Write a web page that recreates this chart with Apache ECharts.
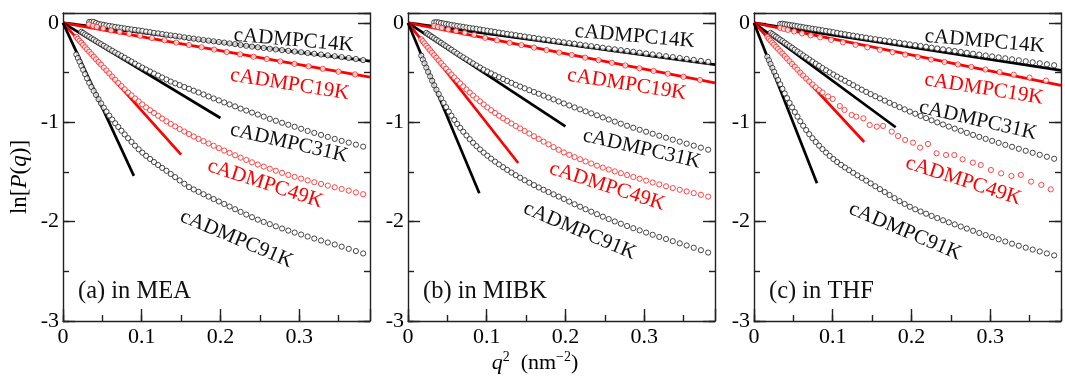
<!DOCTYPE html>
<html><head><meta charset="utf-8">
<script src="https://cdn.jsdelivr.net/npm/echarts@6/dist/echarts.min.js"></script>
<style>html,body{margin:0;padding:0;background:#fff}#c{width:1065px;height:376px}</style>
</head><body><div id="c"></div>
<script>
// ---- shared q^2 grid (nm^-2) of the densely sampled curves ----
const q2 = [
0.0169,0.0189,0.0210,0.0233,0.0256,0.0281,0.0306,0.0333,0.0361,0.0390,
0.0420,0.0452,0.0484,0.0518,0.0552,0.0588,0.0625,0.0663,0.0702,0.0743,
0.0784,0.0827,0.0870,0.0915,0.0961,0.1008,0.1056,0.1106,0.1156,0.1208,
0.1260,0.1314,0.1369,0.1425,0.1482,0.1541,0.1600,0.1661,0.1722,0.1785,
0.1849,0.1914,0.1980,0.2048,0.2116,0.2186,0.2256,0.2328,0.2401,0.2475,
0.2550,0.2627,0.2704,0.2783,0.2862,0.2943,0.3025,0.3108,0.3192,0.3278,
0.3364,0.3452,0.3540,0.3630,0.3721,0.3813,0.3906];
// q^2 grid of the sparse cADMPC19K data
const x19 = [0.033,0.038,0.043,0.051,0.061,0.072,0.084,0.098,0.113,0.129,0.144,0.16,0.176,0.192,0.208,0.225,0.242,0.259,0.276,0.294,0.312,0.33,0.35,0.371];

// ---- (a) in MEA ----
const a14 = [null,null,null,null,null,null,null,0.01,0.012,0.01,
0.0,-0.01,-0.015,-0.02,-0.025,-0.03,-0.035,-0.04,-0.045,-0.05,
-0.055,-0.06,-0.065,-0.07,-0.075,-0.08,-0.087,-0.093,-0.1,-0.105,
-0.112,-0.118,-0.125,-0.13,-0.137,-0.145,-0.152,-0.158,-0.165,-0.172,
-0.178,-0.185,-0.192,-0.198,-0.206,-0.213,-0.222,-0.23,-0.238,-0.245,
-0.252,-0.26,-0.267,-0.274,-0.281,-0.288,-0.295,-0.303,-0.31,-0.318,
-0.326,-0.335,-0.344,-0.353,-0.363,-0.374,-0.386];
const a19 = [-0.015,-0.03,-0.04,-0.055,-0.075,-0.09,-0.11,-0.13,-0.152,-0.175,-0.198,-0.222,-0.245,-0.268,-0.292,-0.316,-0.34,-0.363,-0.387,-0.412,-0.437,-0.462,-0.49,-0.518];
const a31 = [null,null,null,-0.09,-0.10,-0.115,-0.127,-0.14,-0.155,-0.168,
-0.184,-0.199,-0.214,-0.23,-0.246,-0.263,-0.28,-0.297,-0.314,-0.332,
-0.35,-0.37,-0.389,-0.41,-0.43,-0.45,-0.469,-0.489,-0.509,-0.529,
-0.549,-0.569,-0.59,-0.608,-0.626,-0.645,-0.663,-0.682,-0.70,-0.72,
-0.74,-0.76,-0.78,-0.80,-0.82,-0.84,-0.862,-0.882,-0.902,-0.922,
-0.943,-0.965,-0.985,-1.005,-1.025,-1.045,-1.065,-1.087,-1.107,-1.127,
-1.147,-1.167,-1.187,-1.205,-1.225,-1.245,-1.265];
const a49 = [-0.14,-0.16,-0.18,-0.20,-0.222,-0.244,-0.266,-0.29,-0.314,-0.34,
-0.366,-0.394,-0.42,-0.45,-0.478,-0.508,-0.54,-0.572,-0.604,-0.636,
-0.668,-0.70,-0.73,-0.76,-0.79,-0.82,-0.85,-0.878,-0.906,-0.934,
-0.962,-0.99,-1.016,-1.042,-1.068,-1.093,-1.118,-1.143,-1.167,-1.19,
-1.213,-1.236,-1.26,-1.284,-1.308,-1.332,-1.356,-1.379,-1.403,-1.425,
-1.446,-1.467,-1.488,-1.509,-1.53,-1.549,-1.567,-1.585,-1.603,-1.62,
-1.637,-1.654,-1.671,-1.688,-1.706,-1.724,-1.742];
const a91 = [-0.318,-0.353,-0.39,-0.432,-0.472,-0.515,-0.558,-0.603,-0.644,-0.684,
-0.725,-0.768,-0.81,-0.853,-0.893,-0.933,-0.972,-1.01,-1.047,-1.085,
-1.122,-1.16,-1.197,-1.235,-1.272,-1.306,-1.338,-1.369,-1.40,-1.43,
-1.459,-1.488,-1.52,-1.552,-1.585,-1.619,-1.652,-1.676,-1.70,-1.724,
-1.748,-1.773,-1.797,-1.822,-1.848,-1.875,-1.902,-1.929,-1.955,-1.98,
-2.003,-2.025,-2.047,-2.069,-2.09,-2.11,-2.13,-2.15,-2.17,-2.19,
-2.21,-2.23,-2.252,-2.274,-2.296,-2.32,-2.345];
const fitXa = [0.39, 0.39, 0.2, 0.15, 0.09];
const fitYa = [-0.385, -0.546, -0.957, -1.326, -1.54];

// ---- (b) in MIBK ----
const b14 = [null,null,null,null,null,null,null,0.005,0.008,0.005,
0.0,-0.005,-0.01,-0.015,-0.02,-0.025,-0.03,-0.035,-0.04,-0.045,
-0.05,-0.055,-0.06,-0.066,-0.072,-0.078,-0.084,-0.09,-0.097,-0.103,
-0.11,-0.116,-0.123,-0.13,-0.137,-0.144,-0.151,-0.158,-0.165,-0.172,
-0.18,-0.187,-0.195,-0.203,-0.21,-0.218,-0.226,-0.234,-0.242,-0.25,
-0.258,-0.266,-0.274,-0.282,-0.29,-0.299,-0.308,-0.317,-0.326,-0.335,
-0.344,-0.353,-0.362,-0.372,-0.382,-0.392,-0.403];
const b19 = [-0.03,-0.04,-0.05,-0.065,-0.08,-0.1,-0.12,-0.15,-0.175,-0.2,-0.223,-0.248,-0.273,-0.298,-0.322,-0.349,-0.375,-0.401,-0.428,-0.456,-0.483,-0.511,-0.542,-0.574];
const b31 = [null,null,null,-0.10,-0.113,-0.126,-0.14,-0.154,-0.169,-0.184,
-0.2,-0.217,-0.234,-0.252,-0.27,-0.289,-0.308,-0.328,-0.347,-0.367,
-0.387,-0.408,-0.428,-0.449,-0.47,-0.489,-0.508,-0.527,-0.546,-0.565,
-0.584,-0.603,-0.622,-0.64,-0.658,-0.677,-0.695,-0.713,-0.732,-0.751,
-0.77,-0.79,-0.81,-0.83,-0.85,-0.87,-0.89,-0.91,-0.93,-0.951,
-0.972,-0.993,-1.014,-1.035,-1.055,-1.075,-1.095,-1.115,-1.135,-1.155,
-1.175,-1.195,-1.215,-1.235,-1.255,-1.276,-1.297];
const b49 = [-0.165,-0.185,-0.206,-0.229,-0.251,-0.275,-0.299,-0.325,-0.351,-0.378,
-0.405,-0.433,-0.461,-0.49,-0.519,-0.549,-0.579,-0.609,-0.639,-0.67,
-0.70,-0.73,-0.76,-0.79,-0.82,-0.85,-0.878,-0.906,-0.934,-0.96,
-0.986,-1.012,-1.037,-1.062,-1.087,-1.113,-1.14,-1.168,-1.195,-1.222,
-1.25,-1.277,-1.303,-1.327,-1.35,-1.372,-1.394,-1.415,-1.436,-1.456,
-1.475,-1.494,-1.512,-1.531,-1.55,-1.568,-1.587,-1.606,-1.625,-1.644,
-1.662,-1.679,-1.696,-1.713,-1.73,-1.748,-1.766];
const b91 = [-0.33,-0.368,-0.407,-0.45,-0.493,-0.538,-0.582,-0.628,-0.672,-0.716,
-0.76,-0.805,-0.848,-0.892,-0.934,-0.976,-1.017,-1.056,-1.095,-1.133,
-1.17,-1.206,-1.24,-1.273,-1.305,-1.336,-1.366,-1.396,-1.424,-1.452,
-1.479,-1.506,-1.532,-1.558,-1.583,-1.608,-1.632,-1.656,-1.679,-1.702,
-1.725,-1.748,-1.772,-1.798,-1.825,-1.85,-1.875,-1.9,-1.925,-1.95,
-1.974,-1.998,-2.021,-2.044,-2.066,-2.088,-2.11,-2.132,-2.154,-2.175,
-2.196,-2.218,-2.24,-2.263,-2.287,-2.311,-2.335];
const fitXb = [0.39, 0.39, 0.2, 0.14, 0.0906];
const fitYb = [-0.42, -0.604, -1.04, -1.41, -1.715];

// ---- (c) in THF ----
const c14 = [null,null,null,null,null,null,null,-0.01,-0.008,-0.012,
-0.016,-0.02,-0.024,-0.028,-0.033,-0.038,-0.043,-0.048,-0.053,-0.058,
-0.063,-0.068,-0.074,-0.08,-0.086,-0.093,-0.1,-0.107,-0.114,-0.121,
-0.128,-0.135,-0.142,-0.149,-0.156,-0.163,-0.17,-0.177,-0.184,-0.192,
-0.2,-0.208,-0.216,-0.224,-0.232,-0.24,-0.249,-0.257,-0.266,-0.274,
-0.283,-0.292,-0.301,-0.31,-0.319,-0.328,-0.337,-0.347,-0.356,-0.366,
-0.376,-0.386,-0.396,-0.406,-0.416,-0.426,-0.436];
const c19 = [-0.05,-0.06,-0.07,-0.085,-0.105,-0.125,-0.145,-0.17,-0.195,-0.22,-0.245,-0.27,-0.294,-0.318,-0.343,-0.368,-0.393,-0.418,-0.443,-0.469,-0.495,-0.521,-0.55,-0.58];
const c31 = [null,null,-0.10,-0.112,-0.125,-0.139,-0.153,-0.168,-0.183,-0.199,
-0.215,-0.233,-0.25,-0.269,-0.288,-0.307,-0.327,-0.347,-0.368,-0.389,
-0.41,-0.432,-0.454,-0.476,-0.498,-0.519,-0.54,-0.561,-0.582,-0.604,
-0.626,-0.649,-0.672,-0.694,-0.716,-0.738,-0.76,-0.782,-0.804,-0.826,
-0.848,-0.87,-0.892,-0.914,-0.936,-0.958,-0.98,-1.001,-1.022,-1.043,
-1.064,-1.085,-1.106,-1.127,-1.147,-1.167,-1.187,-1.207,-1.227,-1.247,
-1.267,-1.287,-1.307,-1.327,-1.347,-1.367,-1.387];
// dense low-q part of cADMPC49K in THF (on q2 grid), then its sparse high-q part
const c49 = [-0.14,-0.16,-0.178,-0.199,-0.219,-0.24,-0.262,-0.285,-0.308,-0.333,
-0.358,-0.386,-0.413,-0.441,-0.47,-0.5,-0.53,-0.56,-0.59,-0.62,
-0.648,-0.676,-0.70];
const x49s = [0.094,0.1,0.109,0.115,0.124,0.13,0.139,0.147,0.156,0.164,0.175,0.183,0.192,0.202,0.211,0.221,0.232,0.244,0.2545,0.265,0.278,0.288,0.301,0.314,0.327,0.339,0.352,0.365,0.377];
const y49s = [-0.74,-0.765,-0.836,-0.876,-0.926,-0.943,-0.96,-1.027,-1.044,-1.037,-1.094,-1.138,-1.178,-1.205,-1.255,-1.218,-1.312,-1.329,-1.329,-1.373,-1.406,-1.43,-1.48,-1.514,-1.54,-1.53,-1.597,-1.63,-1.675];
const c91 = [-0.34,-0.376,-0.413,-0.453,-0.492,-0.534,-0.575,-0.618,-0.663,-0.71,
-0.757,-0.805,-0.85,-0.897,-0.943,-0.99,-1.035,-1.078,-1.12,-1.16,
-1.198,-1.235,-1.27,-1.305,-1.338,-1.37,-1.40,-1.428,-1.455,-1.482,
-1.508,-1.534,-1.56,-1.587,-1.615,-1.644,-1.673,-1.702,-1.732,-1.763,
-1.794,-1.822,-1.85,-1.876,-1.898,-1.92,-1.942,-1.964,-1.986,-2.007,
-2.028,-2.049,-2.07,-2.092,-2.114,-2.135,-2.156,-2.178,-2.2,-2.222,
-2.243,-2.262,-2.281,-2.3,-2.32,-2.34,-2.359];
const fitXc = [0.39, 0.39, 0.18, 0.14, 0.08];
const fitYc = [-0.477, -0.628, -1.05, -1.198, -1.614];

// ---- text ----
const curveNames = ['cADMPC14K','cADMPC19K','cADMPC31K','cADMPC49K','cADMPC91K'];
const panelTitles = ['(a) in MEA','(b) in MIBK','(c) in THF'];
const xTickLabels = ['0','0.1','0.2','0.3'];
const yTickLabels = ['-3','-2','-1','0'];

// ---- layout / style (not data) ----
const FONT = '"Liberation Serif","Times New Roman",serif';
const BLACK = '#111', RED = '#ff0000';
const curveColors = [BLACK, RED, BLACK, RED, BLACK];
const labelRot = [5, 9, 13, 18, 23];
const labelAnchors = [
  {x:[0.293,0.288,0.287,0.257,0.2205], y:[-0.176,-0.619,-1.208,-1.62,-2.175]},
  {x:[0.288,0.278,0.297,0.253,0.218],  y:[-0.136,-0.619,-1.268,-1.646,-2.094]},
  {x:[0.293,0.292,0.2846,0.266,0.192], y:[-0.186,-0.664,-0.982,-1.59,-2.099]}
];
const gridLefts = [63, 408, 754];
const GT = 13, GW = 307, GH = 308;

function pairs(xs, ys) {
  const out = [];
  ys.forEach((y, i) => { if (y !== null && y !== undefined) out.push([xs[i], y]); });
  return out;
}
const panels = [
  {curves:[pairs(q2,a14), pairs(x19,a19), pairs(q2,a31), pairs(q2,a49), pairs(q2,a91)], fx:fitXa, fy:fitYa},
  {curves:[pairs(q2,b14), pairs(x19,b19), pairs(q2,b31), pairs(q2,b49), pairs(q2,b91)], fx:fitXb, fy:fitYb},
  {curves:[pairs(q2,c14), pairs(x19,c19), pairs(q2,c31), pairs(q2,c49).concat(pairs(x49s,y49s)), pairs(q2,c91)], fx:fitXc, fy:fitYc}
];

const axCol = '#222';
const lineSt = {color: axCol, width: 1.4};
function fmtX(v){ const s = (Math.round(v*100)/100).toString(); return xTickLabels.indexOf(s) >= 0 ? s : ''; }
function fmtY(v){ const r = Math.round(v*100)/100; const s = (r === 0 ? 0 : r).toString(); return yTickLabels.indexOf(s) >= 0 ? s : ''; }

const grid = [], xAxis = [], yAxis = [], series = [];
panels.forEach((p, i) => {
  grid.push({left: gridLefts[i], top: GT, width: GW, height: GH});
  const xb = {gridIndex:i, type:'value', min:0, max:0.39, splitLine:{show:false}};
  xAxis.push(Object.assign({}, xb, {position:'bottom', interval:0.05,
    axisLine:{show:true, onZero:false, lineStyle:lineSt},
    axisTick:{show:true, inside:true, length:6, lineStyle:lineSt},
    axisLabel:{show:true, formatter:fmtX, fontFamily:FONT, fontSize:22, color:'#000', margin:5, showMaxLabel:false}}));
  xAxis.push(Object.assign({}, xb, {position:'bottom', interval:0.1,
    axisLine:{show:false, onZero:false}, axisTick:{show:true, inside:true, length:12, lineStyle:lineSt}, axisLabel:{show:false}}));
  xAxis.push(Object.assign({}, xb, {position:'top',
    axisLine:{show:true, onZero:false, lineStyle:lineSt}, axisTick:{show:false}, axisLabel:{show:false}}));
  const yb = {gridIndex:i, type:'value', min:-3, max:0.1, splitLine:{show:false}};
  yAxis.push(Object.assign({}, yb, {position:'left', interval:0.5,
    axisLine:{show:true, onZero:false, lineStyle:lineSt},
    axisTick:{show:true, inside:true, length:6, lineStyle:lineSt},
    axisLabel:{show:true, formatter:fmtY, fontFamily:FONT, fontSize:22, color:'#000', margin:4, showMaxLabel:false}}));
  yAxis.push(Object.assign({}, yb, {position:'left', interval:1,
    axisLine:{show:false, onZero:false}, axisTick:{show:true, inside:true, length:12, lineStyle:lineSt}, axisLabel:{show:false}}));
  yAxis.push(Object.assign({}, yb, {position:'right', interval:0.5,
    axisLine:{show:true, onZero:false, lineStyle:lineSt},
    axisTick:{show:true, inside:true, length:6, lineStyle:lineSt}, axisLabel:{show:false}}));
  yAxis.push(Object.assign({}, yb, {position:'right', interval:1,
    axisLine:{show:false, onZero:false}, axisTick:{show:true, inside:true, length:12, lineStyle:lineSt}, axisLabel:{show:false}}));

  // Guinier fit lines
  p.fx.forEach((fx, k) => {
    series.push({type:'line', xAxisIndex:i*3, yAxisIndex:i*4, data:[[0,0],[fx, p.fy[k]]],
      symbol:'none', silent:true, z:2,
      lineStyle:{color: curveColors[k] === RED ? RED : '#000', width:2.7}});
  });
  // scattering data
  p.curves.forEach((d, k) => {
    series.push({type:'scatter', xAxisIndex:i*3, yAxisIndex:i*4, data:d,
      symbol:'circle', symbolSize:5.2, silent:true, z:3,
      itemStyle:{color:'#fff', borderColor: curveColors[k] === RED ? '#ff1a1a' : '#1a1a1a', borderWidth:1}});
  });
});

const chart = echarts.init(document.getElementById('c'), null, {renderer:'canvas'});
chart.setOption({animation:false, backgroundColor:'#fff', grid, xAxis, yAxis, series});

const graphic = [];
panels.forEach((p, i) => {
  curveNames.forEach((n, k) => {
    const pt = chart.convertToPixel({xAxisIndex:i*3, yAxisIndex:i*4}, [labelAnchors[i].x[k], labelAnchors[i].y[k]]);
    graphic.push({type:'text', x:pt[0], y:pt[1], rotation:-labelRot[k]*Math.PI/180, z:20, silent:true,
      style:{text:n, fill:curveColors[k], fontFamily:FONT, fontSize:21, align:'center', verticalAlign:'middle'}});
  });
  graphic.push({type:'text', x:gridLefts[i] + 15, y:292, z:20, silent:true,
    style:{text:panelTitles[i], fill:'#111', fontFamily:FONT, fontSize:24.5, align:'left', verticalAlign:'middle'}});
});
// axis titles
graphic.push({type:'text', x:20, y:177, rotation:Math.PI/2, z:20, silent:true,
  style:{text:'{n|ln[}{i|P}{n|(}{i|q}{n|)]}', align:'center', verticalAlign:'middle',
    fontFamily:FONT, fontSize:23, fill:'#000',
    rich:{n:{fontFamily:FONT, fontSize:23, fill:'#000'}, i:{fontFamily:FONT, fontSize:23, fontStyle:'italic', fill:'#000'}}}});
graphic.push({type:'text', x:535, y:363, z:20, silent:true,
  style:{text:'{i|q}{s|2}{n|  (nm}{s|−2}{n|)}', align:'center', verticalAlign:'middle',
    fontFamily:FONT, fontSize:22, fill:'#000',
    rich:{n:{fontFamily:FONT, fontSize:22, fill:'#000', lineHeight:26},
          i:{fontFamily:FONT, fontSize:22, fontStyle:'italic', fill:'#000', lineHeight:26},
          s:{fontFamily:FONT, fontSize:14, fill:'#000', verticalAlign:'top', lineHeight:26}}}});
chart.setOption({graphic});
</script>
</body></html>
